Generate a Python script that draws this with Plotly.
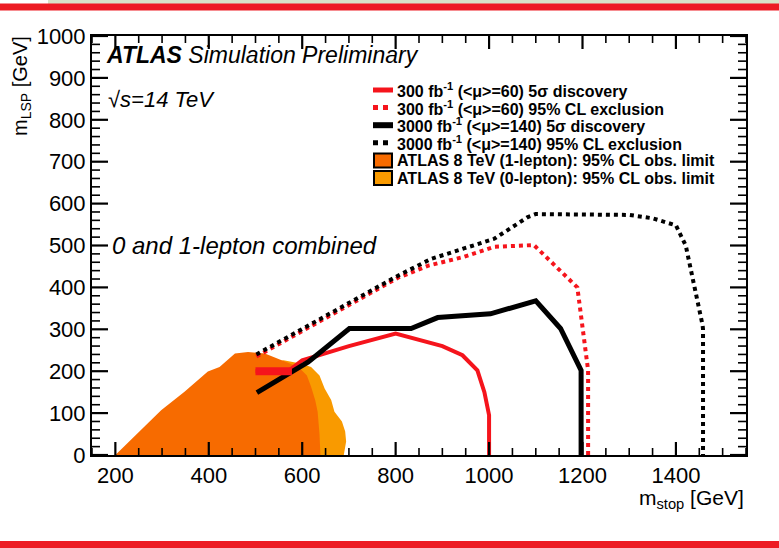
import plotly.graph_objects as go

# ---------------- data ----------------
lep1_x = [200, 241, 298, 348, 398, 423, 445, 456, 484, 520, 556, 592, 610, 619, 628, 633, 637, 639]
lep1_y = [0, 44, 107, 151, 199, 210, 230, 242, 246, 242, 226, 210, 190, 163, 130, 103, 50, 0]

lep0_x = [450, 450, 560, 599, 619, 637, 648, 662, 669, 685, 692, 694, 689]
lep0_y = [0, 200, 226, 218, 210, 190, 159, 131, 103, 80, 56, 32, 0]

disc300_x = [500, 570, 600, 700, 800, 900, 943, 975, 990, 1000, 1000]
disc300_y = [200, 200, 226, 260, 290, 260, 238, 202, 150, 95, 0]
disc300_thick_x = [500, 578]
disc300_thick_y = [200, 200]

excl300_x = [502, 600, 700, 805, 870, 943, 1011, 1096, 1189, 1212, 1212]
excl300_y = [235, 296, 358, 423, 452, 472, 497, 501, 400, 202, 0]

disc3000_x = [503, 613, 701, 833, 890, 1003, 1100, 1153, 1197, 1197]
disc3000_y = [149, 222, 302, 302, 328, 337, 368, 302, 202, 0]

excl3000_x = [502, 600, 700, 805, 876, 943, 1011, 1083, 1100, 1300, 1350, 1400, 1421, 1457, 1458, 1458]
excl3000_y = [240, 301, 364, 428, 468, 492, 516, 568, 575, 573, 565, 548, 500, 310, 300, 0]

x_major = [200, 400, 600, 800, 1000, 1200, 1400]
y_major = [0, 100, 200, 300, 400, 500, 600, 700, 800, 900, 1000]

labels = [
    "300 fb<sup>-1</sup> (&lt;μ&gt;=60) 5σ discovery",
    "300 fb<sup>-1</sup> (&lt;μ&gt;=60) 95% CL exclusion",
    "3000 fb<sup>-1</sup> (&lt;μ&gt;=140) 5σ discovery",
    "3000 fb<sup>-1</sup> (&lt;μ&gt;=140) 95% CL exclusion",
    "ATLAS 8 TeV (1-lepton): 95% CL obs. limit",
    "ATLAS 8 TeV (0-lepton): 95% CL obs. limit",
]

RED = "#F5141C"
DARK_OR = "#F76B00"
LIGHT_OR = "#F99A00"
FONT = "Liberation Sans"

W, H = 779, 548
ML, MR, MT, MB = 92, 33, 36, 93
pw, ph = W - ML - MR, H - MT - MB
XR = [150, 1550]
YR = [0, 1000]


def px(x):
    return (x - ML) / pw


def py(y):
    return (H - MB - y) / ph


fig = go.Figure()

# filled exclusion regions
fig.add_trace(go.Scatter(x=lep0_x, y=lep0_y, fill="toself", fillcolor=LIGHT_OR, name=labels[5],
                         line=dict(width=0), mode="lines", showlegend=False, hoverinfo="skip"))
fig.add_trace(go.Scatter(x=lep1_x, y=lep1_y, fill="toself", fillcolor=DARK_OR, name=labels[4],
                         line=dict(width=0), mode="lines", showlegend=False, hoverinfo="skip"))

# curves
fig.add_trace(go.Scatter(x=disc300_x, y=disc300_y, mode="lines", name=labels[0], showlegend=False,
                         line=dict(color=RED, width=4)))
fig.add_trace(go.Scatter(x=excl300_x, y=excl300_y, mode="lines", name=labels[1], showlegend=False,
                         line=dict(color=RED, width=4, dash="dot")))
fig.add_trace(go.Scatter(x=disc3000_x, y=disc3000_y, mode="lines", name=labels[2], showlegend=False,
                         line=dict(color="black", width=5)))
fig.add_trace(go.Scatter(x=excl3000_x, y=excl3000_y, mode="lines", name=labels[3], showlegend=False,
                         line=dict(color="black", width=4, dash="dot")))
fig.add_trace(go.Scatter(x=disc300_thick_x, y=disc300_thick_y, mode="lines", showlegend=False,
                         line=dict(color=RED, width=8)))

# ---- ROOT-style inside ticks on all four sides (built from the tick lists) ----
ux = (XR[1] - XR[0]) / pw   # data units per pixel, x
uy = (YR[1] - YR[0]) / ph   # data units per pixel, y


def tick_path(xvals, yvals, xlen_px, ylen_px):
    tx, ty = [], []
    for v in xvals:   # bottom and top
        tx += [v, v, None, v, v, None]
        ty += [YR[0], YR[0] + xlen_px * uy, None, YR[1], YR[1] - xlen_px * uy, None]
    for v in yvals:   # left and right
        tx += [XR[0], XR[0] + ylen_px * ux, None, XR[1], XR[1] - ylen_px * ux, None]
        ty += [v, v, None, v, v, None]
    return tx, ty


x_minor = [v for v in range(150, 1551, 50) if v not in x_major]
y_minor = [v for v in range(0, 1001, 20) if v not in y_major]
mx, my = tick_path(x_major, y_major, 13, 16)
nx, ny = tick_path(x_minor, y_minor, 7, 8)
fig.add_trace(go.Scatter(x=nx, y=ny, mode="lines", showlegend=False, hoverinfo="skip",
                         line=dict(color="black", width=1.6)))
fig.add_trace(go.Scatter(x=mx, y=my, mode="lines", showlegend=False, hoverinfo="skip",
                         line=dict(color="black", width=2.2)))

fig.update_xaxes(
    range=XR, tickvals=x_major, ticks="",
    showgrid=False, zeroline=False, showline=True, linecolor="black", linewidth=2,
    mirror=True, tickfont=dict(family=FONT, size=22, color="black"),
)
fig.update_yaxes(
    range=YR, tickvals=y_major, ticks="",
    showgrid=False, zeroline=False, showline=True, linecolor="black", linewidth=2,
    mirror=True, tickfont=dict(family=FONT, size=22, color="black"),
)

annotations = [
    dict(text="<b><i>ATLAS</i></b><i> Simulation Preliminary</i>", x=px(104), y=py(55),
         xanchor="left", yanchor="middle", font=dict(family=FONT, size=23, color="black")),
    dict(text="<i>√s=14 TeV</i>", x=px(106), y=py(100),
         xanchor="left", yanchor="middle", font=dict(family=FONT, size=22, color="black")),
    dict(text="<i>0 and 1-lepton combined</i>", x=px(110), y=py(245),
         xanchor="left", yanchor="middle", font=dict(family=FONT, size=24, color="black")),
    dict(text="m<sub>LSP</sub> [GeV]", x=px(22), y=py(34), textangle=-90,
         xanchor="center", yanchor="top", font=dict(family=FONT, size=20, color="black")),
    dict(text="m<sub>stop</sub> [GeV]", x=px(746), y=py(499),
         xanchor="right", yanchor="middle", font=dict(family=FONT, size=21, color="black")),
]

shapes = [
    # slide decorations
    dict(type="rect", x0=px(48), x1=px(W + 5), y0=py(-5), y1=py(4), fillcolor="#D8E4C8",
         line=dict(width=0)),
    dict(type="rect", x0=px(-5), x1=px(W + 5), y0=py(3.5), y1=py(10.5), fillcolor="#ED1C24",
         line=dict(width=0)),
    dict(type="rect", x0=px(-5), x1=px(W + 5), y0=py(541), y1=py(553), fillcolor="#ED1C24",
         line=dict(width=0)),
]

# ---- hand-built legend (matches the compact ROOT legend) ----
leg_y0, leg_dy = 90, 17.6
sym_x0, sym_x1, txt_x = 373, 393, 395
legend_styles = [
    ("line", RED, "solid", 5),
    ("line", RED, "dot", 5),
    ("line", "black", "solid", 6),
    ("line", "black", "dot", 5),
    ("box", DARK_OR, None, None),
    ("box", LIGHT_OR, None, None),
]
for i, (kind, col, dash, w) in enumerate(legend_styles):
    yc = leg_y0 + i * leg_dy
    if kind == "line":
        shapes.append(dict(type="line", x0=px(sym_x0), x1=px(sym_x1), y0=py(yc), y1=py(yc),
                           line=dict(color=col, width=w, dash=dash)))
    else:
        shapes.append(dict(type="rect", x0=px(sym_x0 + 1), x1=px(sym_x1 - 1), y0=py(yc - 7),
                           y1=py(yc + 7), fillcolor=col, line=dict(color="black", width=2)))
    annotations.append(dict(text="<b>" + labels[i] + "</b>", x=px(txt_x), y=py(yc),
                            xanchor="left", yanchor="middle",
                            font=dict(family=FONT, size=16, color="black")))

for a in annotations:
    a.update(xref="paper", yref="paper", showarrow=False)
for s in shapes:
    s.update(xref="paper", yref="paper", layer="above")

fig.update_layout(
    width=W, height=H,
    margin=dict(l=ML, r=MR, t=MT, b=MB),
    paper_bgcolor="white", plot_bgcolor="white",
    showlegend=False,
    annotations=annotations,
    shapes=shapes,
)

fig.write_html("out.html")
